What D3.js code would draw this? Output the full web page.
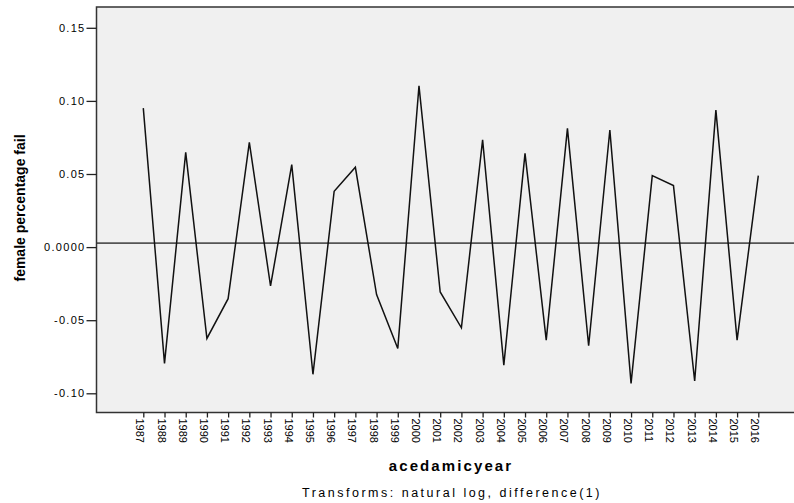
<!DOCTYPE html>
<html>
<head>
<meta charset="utf-8">
<script src="https://cdn.jsdelivr.net/npm/d3@7"></script>
<style>
  html, body { margin: 0; padding: 0; background: #ffffff; }
  svg { display: block; }
  text { font-family: "Liberation Sans", Arial, sans-serif; fill: #000; }
</style>
</head>
<body>
<svg id="chart" width="794" height="503"></svg>
<script>
// ---- data ----
const years = [1987,1988,1989,1990,1991,1992,1993,1994,1995,1996,1997,1998,1999,2000,2001,2002,2003,2004,2005,2006,2007,2008,2009,2010,2011,2012,2013,2014,2015,2016];
const values = [0.0951,-0.0795,0.0648,-0.0625,-0.0353,0.0716,-0.0266,0.0564,-0.0870,0.0382,0.0546,-0.0325,-0.0693,0.1103,-0.0307,-0.0552,0.0733,-0.0807,0.0641,-0.0636,0.0812,-0.0675,0.0801,-0.0932,0.0489,0.0421,-0.0916,0.0937,-0.0636,0.0489];
const yTickValues = [-0.10,-0.05,0.0,0.05,0.10,0.15];
const yTickLabels = ["-0.10","-0.05","0.0000","0.05","0.10","0.15"];
const referenceValue = 0.0027;
const yTitle = "female percentage fail";
const xTitle = "acedamicyear";
const footnote = "Transforms: natural log, difference(1)";

// ---- layout ----
const svg = d3.select("#chart");
const frame = {left: 96.5, top: 7, right: 800, bottom: 412.5};

const y = d3.scaleLinear().domain([-0.10, 0.15]).range([393.3, 27.8]);
const x = d3.scalePoint().domain(years).range([143.3, 758.3]);

// plot background
svg.append("rect")
  .attr("x", frame.left).attr("y", frame.top)
  .attr("width", frame.right - frame.left).attr("height", frame.bottom - frame.top)
  .attr("fill", "#f0f0f0");

// reference line
svg.append("line")
  .attr("x1", frame.left).attr("x2", frame.right)
  .attr("y1", y(referenceValue)).attr("y2", y(referenceValue))
  .attr("stroke", "#555").attr("stroke-width", 1.6);

// data line
const line = d3.line().x((d, i) => x(years[i])).y(d => y(d));
svg.append("path")
  .datum(values)
  .attr("d", line)
  .attr("fill", "none")
  .attr("stroke", "#111")
  .attr("stroke-width", 1.5)
  .attr("stroke-linejoin", "miter");

// frame
svg.append("rect")
  .attr("x", frame.left).attr("y", frame.top)
  .attr("width", frame.right - frame.left).attr("height", frame.bottom - frame.top)
  .attr("fill", "none").attr("stroke", "#333").attr("stroke-width", 1.5);

// y axis
const yAxis = d3.axisLeft(y).tickValues(yTickValues)
  .tickFormat((d, i) => yTickLabels[i]).tickSize(10).tickPadding(1);
const gy = svg.append("g").attr("transform", `translate(${frame.left},0)`).call(yAxis);
gy.select(".domain").remove();
gy.selectAll(".tick line").attr("stroke", "#222").attr("stroke-width", 1.3);
gy.selectAll(".tick text")
  .style("font-family", '"Liberation Sans", Arial, sans-serif')
  .style("font-size", "11px")
  .style("letter-spacing", "1.3px")
  .attr("fill", "#000");

// x axis
const xAxis = d3.axisBottom(x).tickSize(5).tickFormat(d => String(d));
const gx = svg.append("g").attr("transform", `translate(0,${frame.bottom})`).call(xAxis);
gx.select(".domain").remove();
gx.selectAll(".tick line").attr("stroke", "#222").attr("stroke-width", 1.3);
gx.selectAll(".tick text")
  .style("font-family", '"Liberation Sans", Arial, sans-serif')
  .style("font-size", "11px")
  .attr("fill", "#000")
  .attr("text-anchor", "start")
  .attr("dy", null)
  .attr("x", null).attr("y", null)
  .attr("transform", "translate(-7.5,6) rotate(90)");

// titles
svg.append("text")
  .attr("transform", "translate(25,208) rotate(-90)")
  .attr("text-anchor", "middle")
  .style("font-size", "14px")
  .style("font-weight", "bold")
  .text(yTitle);

svg.append("text")
  .attr("x", 451).attr("y", 471)
  .attr("text-anchor", "middle")
  .style("font-size", "15px")
  .style("font-weight", "bold")
  .style("letter-spacing", "2.1px")
  .text(xTitle);

svg.append("text")
  .attr("x", 452).attr("y", 497)
  .attr("text-anchor", "middle")
  .style("font-size", "12.5px")
  .style("letter-spacing", "2.5px")
  .text(footnote);
</script>
</body>
</html>
